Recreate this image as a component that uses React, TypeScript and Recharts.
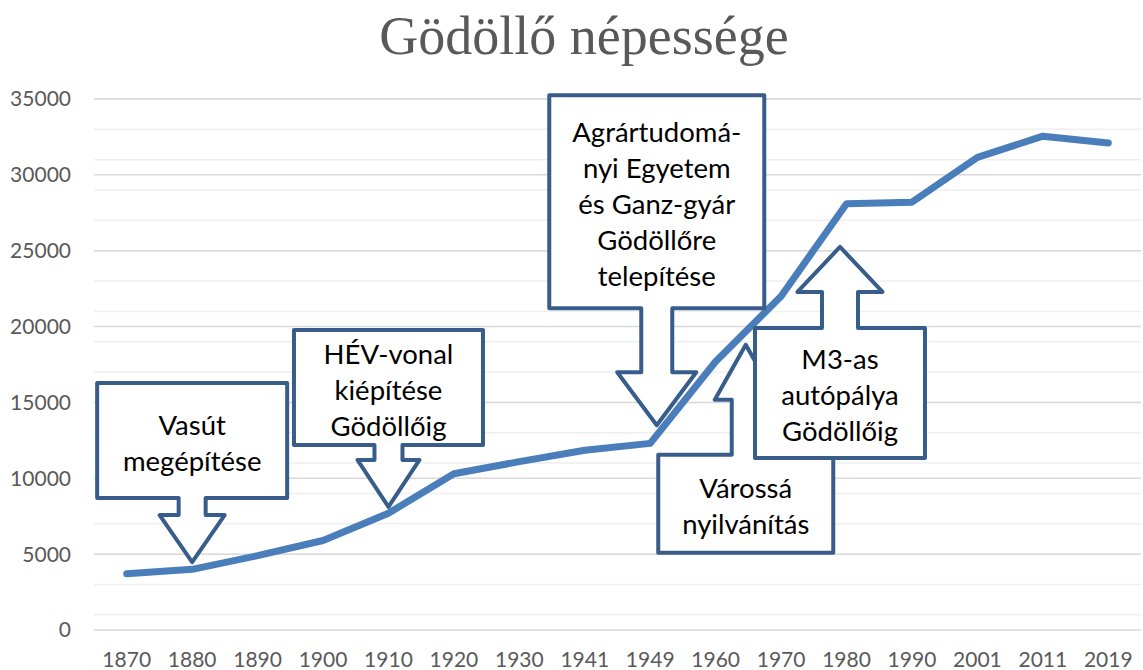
import { LineChart, Line, XAxis, YAxis, CartesianGrid, ReferenceDot } from 'recharts';

const years = ['1870', '1880', '1890', '1900', '1910', '1920', '1930', '1941', '1949', '1960', '1970', '1980', '1990', '2001', '2011', '2019'];
const population = [3700, 4000, 4900, 5900, 7700, 10300, 11100, 11850, 12300, 17700, 22000, 28100, 28200, 31150, 32550, 32100];
const yTicks = [0, 5000, 10000, 15000, 20000, 25000, 30000, 35000];
const minorTicks = Array.from({ length: 36 }, (_, i) => i * 1000);

// callout texts and where their arrow tips point (x = category index, y = value)
const calloutTexts = [
  ['Vasút', 'megépítése'],
  ['HÉV-vonal', 'kiépítése', 'Gödöllőig'],
  ['Agrártudomá-', 'nyi Egyetem', 'és Ganz-gyár', 'Gödöllőre', 'telepítése'],
  ['Várossá', 'nyilvánítás'],
  ['M3-as', 'autópálya', 'Gödöllőig'],
];
const calloutTipX = [1, 4, 8.1, 9.46, 10.9];
const calloutTipY = [4480, 8110, 13500, 18800, 25250];

// box/arrow geometry in px (not data)
const calloutShapes = [
  { dir: 'down', boxW: 190, boxH: 115, shaftW: 27, shaftH: 17, headW: 65, headH: 47 },
  { dir: 'down', boxW: 189, boxH: 115, shaftW: 28, shaftH: 15, headW: 62, headH: 47 },
  { dir: 'down', boxW: 215, boxH: 213, shaftW: 31, shaftH: 64, headW: 79, headH: 53 },
  { dir: 'up', boxW: 175, boxH: 98, shaftW: 28, shaftH: 55, headW: 62, headH: 55 },
  { dir: 'up', boxW: 170, boxH: 130, shaftW: 36, shaftH: 36, headW: 85, headH: 45 },
];

const data = years.map((y, i) => ({ idx: i, year: y, pop: population[i] }));

const makeCallout = (k: number) => (props: any) => {
  const { cx, cy } = props;
  const g = calloutShapes[k];
  const lines = calloutTexts[k];
  const s = g.dir === 'down' ? -1 : 1;
  const headBase = cy + s * g.headH;
  const boxNear = headBase + s * g.shaftH;
  const boxFar = boxNear + s * g.boxH;
  const l = cx - g.boxW / 2, r = cx + g.boxW / 2;
  const d = [
    `M${l},${boxFar}`, `H${r}`, `V${boxNear}`, `H${cx + g.shaftW / 2}`, `V${headBase}`,
    `H${cx + g.headW / 2}`, `L${cx},${cy}`, `L${cx - g.headW / 2},${headBase}`,
    `H${cx - g.shaftW / 2}`, `V${boxNear}`, `H${l}`, 'Z',
  ].join(' ');
  const mid = (boxNear + boxFar) / 2;
  const lh = 36;
  return (
    <g>
      <path d={d} fill="#ffffff" stroke="#385d8a" strokeWidth={4} strokeLinejoin="round" />
      {lines.map((t, i) => (
        <text key={i} x={cx} y={mid + (i - (lines.length - 1) / 2) * lh + 2} textAnchor="middle"
          dominantBaseline="central" fontFamily="Lato" fontSize={27.5} fill="#000000">{t}</text>
      ))}
    </g>
  );
};

export default function App() {
  return (
    <div style={{ position: 'absolute', left: 0, top: 0, width: 1143, height: 670, background: '#fff' }}>
      <div style={{ position: 'absolute', left: 0, top: 5, width: 1143, paddingLeft: 25, boxSizing: 'border-box', textAlign: 'center', fontFamily: 'Liberation Serif', fontSize: 54, color: '#595959', lineHeight: '62px' }}>
        Gödöllő népessége
      </div>
      <LineChart width={1143} height={670} data={data} margin={{ top: 99, right: 2, left: 0, bottom: 0 }}>
        <CartesianGrid horizontal vertical={false} horizontalValues={minorTicks} stroke="#efefef" strokeWidth={1.5} />
        <CartesianGrid horizontal vertical={false} horizontalValues={yTicks} stroke="#d9d9d9" strokeWidth={1.5} />
        <XAxis dataKey="idx" type="number" domain={[-0.5, 15.5]} ticks={years.map((_, i) => i)}
          tickFormatter={(v: number) => years[v]} axisLine={false} tickLine={false} tickSize={0} tickMargin={22}
          height={40} interval={0} tick={{ fill: '#595959', fontSize: 21, fontFamily: 'Lato' }} />
        <YAxis domain={[0, 35000]} ticks={yTicks} axisLine={false} tickLine={false} tickSize={0} tickMargin={23}
          width={94} tick={{ fill: '#595959', fontSize: 21, fontFamily: 'Lato' }} />
        <Line dataKey="pop" stroke="#4a7ebb" strokeWidth={7} dot={false} strokeLinejoin="round" strokeLinecap="round" isAnimationActive={false} />
        {calloutTexts.map((_, k) => (
          <ReferenceDot key={k} x={calloutTipX[k]} y={calloutTipY[k]} r={0} ifOverflow="visible" shape={makeCallout(k)} />
        ))}
      </LineChart>
    </div>
  );
}
